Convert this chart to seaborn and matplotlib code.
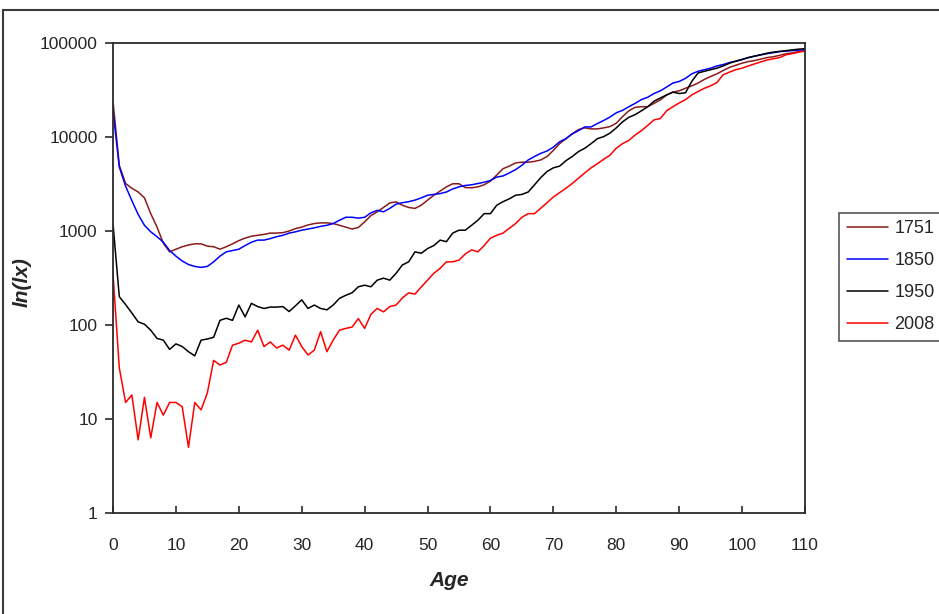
import numpy as np
import pandas as pd
import seaborn as sns
import matplotlib
matplotlib.use("Agg")
import matplotlib.pyplot as plt
from matplotlib.patches import Rectangle
from matplotlib.lines import Line2D

# Survivors per age (log scale), four period tables
ages = list(range(0, 111))

years = ["1751", "1850", "1950", "2008"]
colors = ["#8B1A1A", "#0000FF", "#000000", "#FF0000"]

lx_1751 = [24000, 5000, 3200, 2850, 2600, 2250, 1530, 1100, 740, 600,
           640, 680, 710, 730, 730, 690, 680, 640, 680, 730,
           790, 840, 880, 900, 920, 950, 950, 960, 1000, 1060,
           1100, 1160, 1200, 1220, 1220, 1200, 1150, 1100, 1050, 1090,
           1250, 1460, 1600, 1780, 1990, 2040, 1880, 1780, 1740, 1880,
           2130, 2400, 2660, 2950, 3180, 3180, 2900, 2880, 2950, 3100,
           3400, 3940, 4600, 4900, 5300, 5400, 5400, 5500, 5700, 6200,
           7200, 8500, 9600, 10800, 12000, 12500, 12200, 12200, 12500, 12900,
           14000, 16500, 19000, 20700, 21000, 21000, 22800, 24800, 28000, 30000,
           31000, 33000, 35000, 37500, 41000, 44000, 47000, 51000, 55000, 58000,
           61000, 63500, 65000, 67500, 70000, 71500, 74000, 77000, 78500, 81000,
           83000]

lx_1850 = [19000, 4800, 3000, 2100, 1500, 1150, 980, 870, 760, 620,
           540, 480, 440, 420, 410, 420, 470, 540, 600, 620,
           640, 700, 760, 800, 800, 830, 870, 900, 950, 980,
           1020, 1050, 1080, 1120, 1150, 1200, 1300, 1400, 1400, 1370,
           1400, 1560, 1660, 1600, 1740, 1930, 2000, 2050, 2130, 2250,
           2400, 2450, 2500, 2600, 2800, 2950, 3050, 3100, 3200, 3300,
           3450, 3750, 3850, 4150, 4500, 5000, 5700, 6200, 6700, 7100,
           7800, 8900, 9600, 10800, 11700, 12800, 12800, 13900, 15000, 16300,
           18100, 19200, 21000, 22800, 25000, 26500, 29000, 31000, 34000, 37500,
           39000, 42000, 47000, 50000, 52000, 54000, 57000, 59000, 62000, 64000,
           66500, 70000, 72500, 75000, 77000, 79000, 81000, 82000, 83000, 84000,
           85000]

lx_1950 = [1200, 200, 165, 134, 108, 102, 88, 72, 69, 55,
           63, 59, 52, 47, 69, 71, 74, 112, 118, 112,
           163, 122, 170, 157, 150, 155, 155, 157, 139, 160,
           185, 150, 163, 150, 145, 163, 192, 207, 220, 255,
           265, 255, 300, 315, 300, 355, 435, 470, 600, 580,
           650, 700, 800, 770, 950, 1020, 1020, 1150, 1300, 1530,
           1530, 1880, 2050, 2200, 2400, 2450, 2600, 3100, 3700, 4300,
           4700, 4900, 5600, 6200, 7000, 7600, 8500, 9600, 10100, 11000,
           12500, 14500, 16200, 17300, 19000, 21000, 24000, 26000, 28000, 30000,
           29000, 29500, 39000, 48000, 50000, 52000, 54000, 57000, 61000, 64000,
           67000, 70000, 72500, 75000, 78000, 80000, 81500, 83000, 84500, 86000,
           87000]

lx_2008 = [350, 35, 15, 18, 6, 17, 6.3, 15, 11, 15,
           15, 13.5, 5, 15, 12.5, 19, 42, 37.5, 40, 61,
           64, 69, 66, 88, 59, 66, 57, 61, 54, 78,
           59, 48, 54, 85, 52, 69, 88, 92, 95, 117,
           92, 130, 150, 138, 157, 163, 194, 220, 213, 254,
           300, 355, 400, 470, 470, 490, 570, 630, 600, 700,
           840, 900, 950, 1070, 1200, 1400, 1530, 1530, 1750, 2000,
           2300, 2560, 2850, 3200, 3650, 4150, 4700, 5200, 5800, 6400,
           7600, 8500, 9200, 10500, 11700, 13300, 15200, 15700, 19000, 21000,
           23000, 25000, 28000, 30500, 33000, 35000, 38000, 46000, 49000, 52000,
           54000, 57000, 60000, 63000, 66000, 68000, 70000, 75000, 77000, 80000,
           82000]

x_ticks = [0, 10, 20, 30, 40, 50, 60, 70, 80, 90, 100, 110]
y_ticks = [1, 10, 100, 1000, 10000, 100000]

frames = []
for yr, vals in zip(years, [lx_1751, lx_1850, lx_1950, lx_2008]):
    frames.append(pd.DataFrame({"Age": ages, "lx": vals, "Year": yr}))
df = pd.concat(frames, ignore_index=True)

sns.set_theme(style="white")
plt.rcParams["font.family"] = ["Liberation Sans", "DejaVu Sans"]

W, H = 939, 614
fig = plt.figure(figsize=(W / 100, H / 100), dpi=100)
ax = fig.add_axes([113 / W, 1 - 513 / H, (805 - 113) / W, (513 - 43) / H])

sns.lineplot(data=df, x="Age", y="lx", hue="Year", hue_order=years,
             palette=dict(zip(years, colors)), linewidth=1.1, ax=ax,
             legend=False)

ax.set_yscale("log")
ax.set_xlim(0, 110)
ax.set_ylim(1, 100000)
ax.set_xticks(x_ticks)
ax.set_xticklabels([str(t) for t in x_ticks])
ax.set_yticks(y_ticks)
ax.set_yticklabels([str(t) for t in y_ticks])
ax.yaxis.set_minor_locator(matplotlib.ticker.NullLocator())
ax.set_xlabel("")
ax.set_ylabel("")

for s in ax.spines.values():
    s.set_visible(True)
    s.set_color("#2b2b2b")
    s.set_linewidth(1.3)

ax.tick_params(axis="y", direction="out", length=6, width=1.2, color="#2b2b2b",
               pad=5, labelsize=12.5, left=True)
ax.tick_params(axis="x", direction="in", length=5, width=1.2, color="#2b2b2b",
               pad=18, labelsize=12.5, bottom=True)

fig.text(449 / W, 1 - 580 / H, "Age", ha="center", va="center",
         fontsize=15, fontweight="bold", fontstyle="italic")
fig.text(22 / W, 1 - 282 / H, "ln(lx)", ha="center", va="center",
         rotation=90, fontsize=15, fontweight="bold", fontstyle="italic")

# legend on the right
handles = [Line2D([], [], color=c, linewidth=1.1) for c in colors]
leg = fig.legend(handles, years, loc="upper left",
                 bbox_to_anchor=(839 / W, 1 - 212.5 / H),
                 bbox_transform=fig.transFigure, frameon=True, fancybox=False,
                 fontsize=13, handlelength=2.3, handletextpad=0.35,
                 labelspacing=0.83, borderpad=0.42, borderaxespad=0)
leg.get_frame().set_edgecolor("#2b2b2b")
leg.get_frame().set_linewidth(1.2)

# outer chart border
fig.patches.append(Rectangle((3 / W, -0.2), 1.2, 1.2 - 10 / H,
                             transform=fig.transFigure, fill=False,
                             edgecolor="#3a3a3a", linewidth=1.5))

fig.savefig("out.png", dpi=100)
